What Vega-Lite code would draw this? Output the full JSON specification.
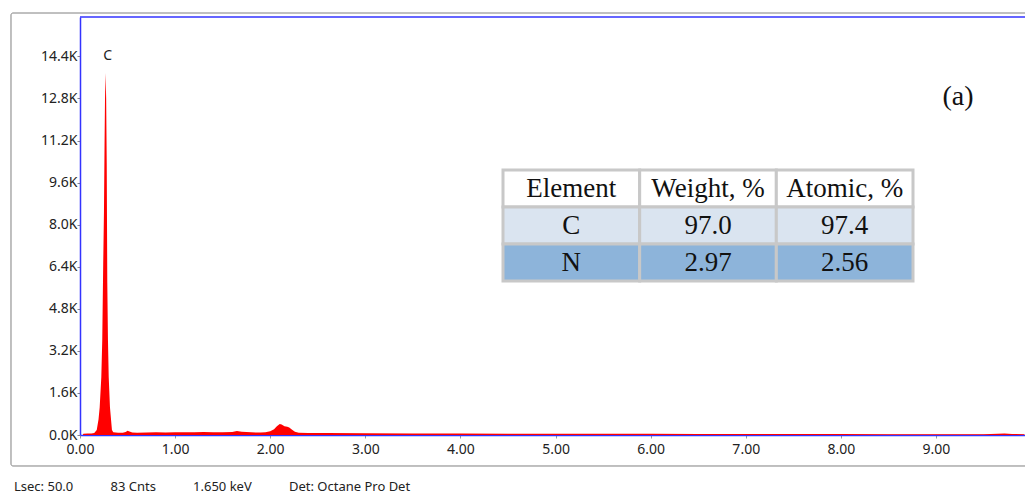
{
  "$schema": "https://vega.github.io/schema/vega-lite/v6.json",
  "autosize": {"type": "none"},
  "padding": {"left": 80, "top": 17, "right": 0, "bottom": 61},
  "width": 945,
  "height": 418,
  "background": "white",
  "config": {"view": {"stroke": null}, "font": "Noto Sans"},
  "title": {
    "text": "Lsec: 50.0\u00a0\u00a0\u00a0\u00a0\u00a0\u00a0\u00a0\u00a0\u00a0\u00a0\u00a083 Cnts\u00a0\u00a0\u00a0\u00a0\u00a0\u00a0\u00a0\u00a0\u00a0\u00a0\u00a01.650 keV\u00a0\u00a0\u00a0\u00a0\u00a0\u00a0\u00a0\u00a0\u00a0\u00a0\u00a0Det: Octane Pro Det",
    "orient": "bottom",
    "anchor": "start",
    "frame": "group",
    "dx": -66,
    "offset": 15,
    "font": "Noto Sans",
    "fontSize": 13,
    "fontWeight": "normal",
    "color": "#222222"
  },
  "datasets": {
    "spectrum": [
      {"keV": 0.03, "counts": 0},
      {"keV": 0.035, "counts": 45},
      {"keV": 0.08, "counts": 55},
      {"keV": 0.12, "counts": 60},
      {"keV": 0.15, "counts": 80},
      {"keV": 0.176, "counts": 190},
      {"keV": 0.195, "counts": 600},
      {"keV": 0.207, "counts": 1060},
      {"keV": 0.224, "counts": 2200},
      {"keV": 0.234, "counts": 3610},
      {"keV": 0.244, "counts": 6500},
      {"keV": 0.252, "counts": 8500},
      {"keV": 0.258, "counts": 11000},
      {"keV": 0.263, "counts": 12800},
      {"keV": 0.269, "counts": 13770},
      {"keV": 0.275, "counts": 12800},
      {"keV": 0.281, "counts": 10350},
      {"keV": 0.287, "counts": 5800},
      {"keV": 0.294, "counts": 3610},
      {"keV": 0.302, "counts": 2200},
      {"keV": 0.315, "counts": 1060},
      {"keV": 0.336, "counts": 190},
      {"keV": 0.35, "counts": 100},
      {"keV": 0.4, "counts": 85},
      {"keV": 0.45, "counts": 90},
      {"keV": 0.48, "counts": 110},
      {"keV": 0.5, "counts": 160},
      {"keV": 0.52, "counts": 130},
      {"keV": 0.55, "counts": 95},
      {"keV": 0.6, "counts": 90},
      {"keV": 0.7, "counts": 95},
      {"keV": 0.8, "counts": 100},
      {"keV": 0.9, "counts": 95},
      {"keV": 1.0, "counts": 100},
      {"keV": 1.1, "counts": 105},
      {"keV": 1.2, "counts": 100},
      {"keV": 1.3, "counts": 110},
      {"keV": 1.4, "counts": 100},
      {"keV": 1.5, "counts": 105},
      {"keV": 1.6, "counts": 115},
      {"keV": 1.65, "counts": 150},
      {"keV": 1.7, "counts": 120},
      {"keV": 1.8, "counts": 100},
      {"keV": 1.9, "counts": 95},
      {"keV": 1.95, "counts": 100},
      {"keV": 2.0, "counts": 140},
      {"keV": 2.04, "counts": 220},
      {"keV": 2.07, "counts": 330},
      {"keV": 2.1, "counts": 420},
      {"keV": 2.12, "counts": 400},
      {"keV": 2.15, "counts": 330},
      {"keV": 2.18, "counts": 310},
      {"keV": 2.2, "counts": 290},
      {"keV": 2.23, "counts": 200},
      {"keV": 2.26, "counts": 120},
      {"keV": 2.3, "counts": 90},
      {"keV": 2.4, "counts": 80},
      {"keV": 2.6, "counts": 75},
      {"keV": 3.0, "counts": 70},
      {"keV": 3.5, "counts": 60},
      {"keV": 4.0, "counts": 55},
      {"keV": 4.5, "counts": 50},
      {"keV": 5.0, "counts": 50},
      {"keV": 5.5, "counts": 45},
      {"keV": 6.0, "counts": 45},
      {"keV": 6.5, "counts": 40},
      {"keV": 7.0, "counts": 40},
      {"keV": 7.5, "counts": 35},
      {"keV": 8.0, "counts": 35},
      {"keV": 8.5, "counts": 30},
      {"keV": 9.0, "counts": 30},
      {"keV": 9.5, "counts": 30},
      {"keV": 9.65, "counts": 45},
      {"keV": 9.72, "counts": 60},
      {"keV": 9.8, "counts": 40},
      {"keV": 9.93, "counts": 30}
    ],
    "peaks": [{"element": "C", "keV": 0.27, "counts": 13770}],
    "table": [
      {"row": "Element", "col": "Element", "text": "Element"},
      {"row": "Element", "col": "Weight, %", "text": "Weight, %"},
      {"row": "Element", "col": "Atomic, %", "text": "Atomic, %"},
      {"row": "C", "col": "Element", "text": "C"},
      {"row": "C", "col": "Weight, %", "text": "97.0"},
      {"row": "C", "col": "Atomic, %", "text": "97.4"},
      {"row": "N", "col": "Element", "text": "N"},
      {"row": "N", "col": "Weight, %", "text": "2.97"},
      {"row": "N", "col": "Atomic, %", "text": "2.56"}
    ]
  },
  "layer": [
    {
      "layer": [
        {
          "data": {"values": [{"frame": "outer"}]},
          "mark": {"type": "rect", "fill": null, "stroke": "#808080", "strokeWidth": 1, "clip": false, "cornerRadius": 2},
          "encoding": {
            "x": {"datum": -0.7255, "type": "quantitative"},
            "x2": {"datum": 10.5},
            "y": {"datum": 16052, "type": "quantitative"},
            "y2": {"datum": -1179}
          }
        },
        {
          "data": {"name": "spectrum"},
          "mark": {"type": "area", "color": "#ff0000", "interpolate": "linear"},
          "encoding": {
            "x": {
              "field": "keV", "type": "quantitative",
              "scale": {"domain": [0, 9.936], "nice": false, "zero": false},
              "axis": {
                "values": [0, 1, 2, 3, 4, 5, 6, 7, 8, 9],
                "format": ".2f",
                "title": null,
                "grid": false,
                "domainColor": "#3333ff",
                "domainWidth": 1.5,
                "tickColor": "#999999",
                "tickSize": 3,
                "labelFont": "Noto Sans",
                "labelFontSize": 14,
                "labelColor": "#222222",
                "labelPadding": 4,
                "labelFlush": false,
                "labelOverlap": false
              }
            },
            "y": {
              "field": "counts", "type": "quantitative",
              "scale": {"domain": [0, 15900], "nice": false},
              "axis": {
                "values": [0, 1600, 3200, 4800, 6400, 8000, 9600, 11200, 12800, 14400],
                "labelExpr": "format(datum.value / 1000, '.1f') + 'K'",
                "title": null,
                "grid": false,
                "domainColor": "#3333ff",
                "domainWidth": 1.5,
                "tickColor": "#888888",
                "tickSize": 3,
                "labelFont": "Noto Sans",
                "labelFontSize": 14,
                "labelColor": "#222222",
                "labelPadding": 0,
                "labelFlush": false,
                "labelOverlap": false
              }
            }
          }
        },
        {
          "data": {"values": [{"border": "top"}]},
          "mark": {"type": "rule", "color": "#3333ff", "strokeWidth": 1.5},
          "encoding": {"y": {"datum": 15900, "type": "quantitative"}}
        },
        {
          "data": {"name": "peaks"},
          "mark": {"type": "text", "font": "Noto Sans", "fontSize": 14, "color": "#222222", "dx": 2, "dy": -17, "baseline": "middle", "align": "center"},
          "encoding": {
            "x": {"field": "keV", "type": "quantitative"},
            "y": {"field": "counts", "type": "quantitative"},
            "text": {"field": "element"}
          }
        },
        {
          "data": {"values": [{"panel": "(a)"}]},
          "mark": {"type": "text", "font": "Liberation Serif", "fontSize": 28, "color": "#111111", "baseline": "middle", "align": "center"},
          "encoding": {
            "x": {"datum": 9.231, "type": "quantitative"},
            "y": {"datum": 12858, "type": "quantitative"},
            "text": {"field": "panel"}
          }
        }
      ]
    },
    {
      "data": {"name": "table"},
      "encoding": {
        "x": {
          "field": "col", "type": "nominal", "axis": null,
          "scale": {"domain": ["Element", "Weight, %", "Atomic, %"], "range": [423, 833], "paddingInner": 0, "paddingOuter": 0}
        },
        "y": {
          "field": "row", "type": "nominal", "axis": null,
          "scale": {"domain": ["Element", "C", "N"], "range": [153, 264], "paddingInner": 0, "paddingOuter": 0}
        }
      },
      "layer": [
        {
          "mark": {"type": "rect", "stroke": "#c8c8c8", "strokeWidth": 3},
          "encoding": {
            "fill": {
              "field": "row", "type": "nominal", "legend": null,
              "scale": {"domain": ["Element", "C", "N"], "range": ["#ffffff", "#dae4f0", "#8db4da"]}
            }
          }
        },
        {
          "mark": {"type": "text", "font": "Liberation Serif", "fontSize": 27, "color": "#111111", "align": "center", "baseline": "middle"},
          "encoding": {"text": {"field": "text"}}
        }
      ]
    }
  ],
  "resolve": {
    "scale": {"x": "independent", "y": "independent"},
    "axis": {"x": "independent", "y": "independent"}
  }
}
